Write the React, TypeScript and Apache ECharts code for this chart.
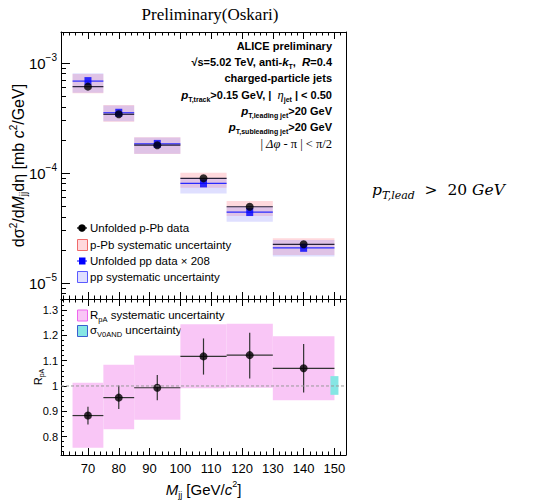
import React, { useEffect, useRef } from "react";
import * as echarts from "echarts";

// ---- data ----
const binLow = [65, 75, 85, 100, 115, 130];
const binHigh = [75, 85, 100, 115, 130, 150];
const binCenter = [70, 80, 92.5, 107.5, 122.5, 140];

const pPbY = [6.1e-4, 3.42e-4, 1.79e-4, 8.95e-5, 4.94e-5, 2.25e-5];
const ppY = [6.85e-4, 3.53e-4, 1.84e-4, 8.05e-5, 4.42e-5, 2.09e-5];
const pPbSysLow = [5.31e-4, 2.92e-4, 1.49e-4, 7.35e-5, 4.06e-5, 1.8e-5];
const pPbSysHigh = [7.94e-4, 4.15e-4, 2.11e-4, 1.007e-4, 5.56e-5, 2.55e-5];
const ppSysLow = [5.37e-4, 2.95e-4, 1.5e-4, 6.53e-5, 3.61e-5, 1.74e-5];
const ppSysHigh = [8.06e-4, 4.1e-4, 2.1e-4, 8.95e-5, 4.94e-5, 2.46e-5];

const rpa = [0.883, 0.954, 0.993, 1.117, 1.122, 1.07];
const rpaStatLow = [0.848, 0.909, 0.944, 1.045, 1.03, 0.974];
const rpaStatHigh = [0.918, 1.002, 1.043, 1.188, 1.211, 1.166];
const rpaSysLow = [0.756, 0.829, 0.866, 0.991, 0.993, 0.944];
const rpaSysHigh = [1.013, 1.084, 1.121, 1.244, 1.246, 1.197];

const v0andBox = [148.7, 151.3, 0.965, 1.039];

const xTickValues = [70, 80, 90, 100, 110, 120, 130, 140, 150];
const upperDecades = [-5, -4, -3];
const ratioTickValues = [0.8, 0.9, 1, 1.1, 1.2, 1.3];

// ---- layout / styles ----
const X_MIN = 61.25;
const X_MAX = 153.75;
const LOGY_MIN = -5.145;
const LOGY_MAX = -2.718;
const R_MIN = 0.727;
const R_MAX = 1.344;
const FONT = "Liberation Sans";
const SERIF = "Liberation Serif";
const PPB_FILL = "rgba(255,150,160,0.36)";
const PP_FILL = "rgba(130,130,255,0.26)";

const xMinor: number[] = [];
for (let v = 62; v <= 152; v += 2) xMinor.push(v);
const logMinor: number[] = [];
for (let n = -6; n <= -3; n++)
  for (let k = 2; k <= 9; k++) {
    const v = n + Math.log10(k);
    if (v > LOGY_MIN && v < LOGY_MAX) logMinor.push(v);
  }
const rMinor: number[] = [];
for (let i = 0; i <= 31; i++) {
  const v = Number((0.74 + i * 0.02).toFixed(2));
  if (v < R_MAX) rMinor.push(v);
}

const boxRender = (fill: string) => (params: any, api: any) => {
  const p1 = api.coord([api.value(0), api.value(3)]);
  const p2 = api.coord([api.value(1), api.value(2)]);
  return {
    type: "rect",
    shape: { x: p1[0], y: p1[1], width: p2[0] - p1[0], height: p2[1] - p1[1] },
    style: { fill },
  };
};

const errRender = (color: string) => (params: any, api: any) => {
  const xc = api.value(0), y = api.value(1);
  const a = api.coord([api.value(2), y]);
  const b = api.coord([api.value(3), y]);
  const c = api.coord([xc, api.value(4)]);
  const d = api.coord([xc, api.value(5)]);
  return {
    type: "group",
    children: [
      { type: "line", shape: { x1: a[0], y1: a[1], x2: b[0], y2: b[1] }, style: { stroke: color, lineWidth: 1.2 } },
      { type: "line", shape: { x1: c[0], y1: c[1], x2: d[0], y2: d[1] }, style: { stroke: color, lineWidth: 1.2 } },
    ],
  };
};

const tickAxisX = (gridIndex: number, position: string, ticks: number[], len: number, line: boolean, labels?: any, name?: any) => ({
  type: "value",
  gridIndex,
  position,
  min: X_MIN,
  max: X_MAX,
  axisLine: { show: line, onZero: false, lineStyle: { color: "#000", width: 1 } },
  axisTick: { show: true, inside: true, length: len, customValues: ticks, lineStyle: { color: "#000", width: 1 } },
  axisLabel: labels || { show: false },
  splitLine: { show: false },
  ...(name || {}),
});

const tickAxisY = (gridIndex: number, position: string, min: number, max: number, ticks: number[] | null, len: number, line: boolean, labels?: any, name?: any) => ({
  type: "value",
  gridIndex,
  position,
  min,
  max,
  axisLine: { show: line, onZero: false, lineStyle: { color: "#000", width: 1 } },
  axisTick: ticks
    ? { show: true, inside: true, length: len, customValues: ticks, lineStyle: { color: "#000", width: 1 } }
    : { show: false },
  axisLabel: labels || { show: false },
  splitLine: { show: false },
  ...(name || {}),
});

const subStyle = (size: number, extra: any = {}) => ({ fontSize: size, fontFamily: FONT, verticalAlign: "bottom", fill: "#000", ...extra });

export default function App() {
  const ref = useRef<HTMLDivElement>(null);
  useEffect(() => {
    if (!ref.current) return;
    const chart = echarts.init(ref.current, null, { renderer: "svg" });

    const ppSysData = binLow.map((xl, i) => [xl, binHigh[i], Math.log10(ppSysLow[i]), Math.log10(ppSysHigh[i])]);
    const pPbSysData = binLow.map((xl, i) => [xl, binHigh[i], Math.log10(pPbSysLow[i]), Math.log10(pPbSysHigh[i])]);
    const ppBars = binCenter.map((x, i) => [x, Math.log10(ppY[i]), binLow[i], binHigh[i], Math.log10(ppY[i]), Math.log10(ppY[i])]);
    const pPbBars = binCenter.map((x, i) => [x, Math.log10(pPbY[i]), binLow[i], binHigh[i], Math.log10(pPbY[i]), Math.log10(pPbY[i])]);
    const rSysData = binLow.map((xl, i) => [xl, binHigh[i], rpaSysLow[i], rpaSysHigh[i]]);
    const rBars = binCenter.map((x, i) => [x, rpa[i], binLow[i], binHigh[i], rpaStatLow[i], rpaStatHigh[i]]);

    const legendText = (x: number, y: number, text: string, rich?: any) => ({
      type: "text",
      x,
      y,
      style: {
        text,
        fontSize: 11.5,
        fontFamily: FONT,
        fill: "#000",
        align: "left",
        verticalAlign: "middle",
        rich: rich || {},
      },
    });

    const infoRich = {
      t: { fontSize: 11, fontFamily: FONT, fontWeight: "bold", fill: "#000", lineHeight: 16 },
      ti: { fontSize: 11.5, fontFamily: FONT, fontWeight: "bold", fontStyle: "italic", fill: "#000", lineHeight: 16 },
      sub: subStyle(7, { fontWeight: "bold" }),
      g: { fontSize: 12.5, fontFamily: SERIF, fontStyle: "italic", fill: "#000", lineHeight: 16 },
      n: { fontSize: 12.5, fontFamily: SERIF, fill: "#000", lineHeight: 16 },
    };
    const infoLine = (y: number, text: string) => ({
      type: "text",
      x: 332,
      y,
      style: { text, align: "right", verticalAlign: "middle", rich: infoRich, fontSize: 11, fontFamily: FONT, fontWeight: "bold", fill: "#000" },
    });

    const option: any = {
      animation: false,
      grid: [
        { left: 61, top: 32, width: 285, height: 267, show: false },
        { left: 61, top: 299, width: 285, height: 159, show: false },
      ],
      xAxis: [
        tickAxisX(0, "bottom", xTickValues, 7, true),
        tickAxisX(0, "bottom", xMinor, 3.5, false),
        tickAxisX(0, "top", xTickValues, 7, true),
        tickAxisX(0, "top", xMinor, 3.5, false),
        tickAxisX(
          1,
          "bottom",
          xTickValues,
          7,
          true,
          { show: true, customValues: xTickValues, fontSize: 13, fontFamily: FONT, color: "#000", margin: 7 },
          {
            name: "{i|M}{sub|jj}{n| [GeV/}{i|c}{sup|2}{n|]}",
            nameLocation: "middle",
            nameGap: 24,
            nameTextStyle: {
              rich: {
                i: { fontSize: 15, fontFamily: FONT, fontStyle: "italic", color: "#000", lineHeight: 20 },
                n: { fontSize: 15, fontFamily: FONT, color: "#000", lineHeight: 20 },
                sub: { fontSize: 9, fontFamily: FONT, color: "#000", verticalAlign: "bottom" },
                sup: { fontSize: 9, fontFamily: FONT, color: "#000", verticalAlign: "top" },
              },
            },
          }
        ),
        tickAxisX(1, "bottom", xMinor, 3.5, false),
        tickAxisX(1, "top", xTickValues, 7, true),
        tickAxisX(1, "top", xMinor, 3.5, false),
      ],
      yAxis: [
        tickAxisY(
          0,
          "left",
          LOGY_MIN,
          LOGY_MAX,
          upperDecades,
          9,
          true,
          {
            show: true,
            customValues: upperDecades,
            margin: 4,
            formatter: (v: number) => `{b|10}{s|\u2212${Math.round(-v)}}`,
            rich: {
              b: { fontSize: 15, fontFamily: FONT, color: "#000", lineHeight: 22 },
              s: { fontSize: 10, fontFamily: FONT, color: "#000", verticalAlign: "top" },
            },
          },
          {
            name: "{n|d\u03c3}{sup|2}{n|/d}{i|M}{sub|jj}{n|d\u03b7 [mb }{i|c}{sup|2}{n|/GeV]}",
            nameLocation: "middle",
            nameGap: 33,
            nameMoveOverlap: false,
            nameTextStyle: {
              rich: {
                i: { fontSize: 16, fontFamily: FONT, fontStyle: "italic", color: "#000", lineHeight: 20 },
                n: { fontSize: 16, fontFamily: FONT, color: "#000", lineHeight: 20 },
                sub: { fontSize: 10, fontFamily: FONT, color: "#000", verticalAlign: "bottom" },
                sup: { fontSize: 10, fontFamily: FONT, color: "#000", verticalAlign: "top" },
              },
            },
          }
        ),
        tickAxisY(0, "left", LOGY_MIN, LOGY_MAX, logMinor, 5, false),
        tickAxisY(0, "right", LOGY_MIN, LOGY_MAX, null, 0, true),
        tickAxisY(
          1,
          "left",
          R_MIN,
          R_MAX,
          ratioTickValues,
          6,
          true,
          {
            show: true,
            customValues: ratioTickValues,
            margin: 3,
            fontSize: 11,
            fontFamily: FONT,
            color: "#000",
            formatter: (v: number) => String(Number(v.toFixed(1))),
          },
          {
            name: "{n|R}{sub|pA}",
            nameLocation: "middle",
            nameGap: 16,
            nameMoveOverlap: false,
            nameTextStyle: {
              rich: {
                n: { fontSize: 11, fontFamily: FONT, color: "#000", lineHeight: 14 },
                sub: { fontSize: 7, fontFamily: FONT, color: "#000", verticalAlign: "bottom" },
              },
            },
          }
        ),
        tickAxisY(1, "left", R_MIN, R_MAX, rMinor, 3, false),
        tickAxisY(1, "right", R_MIN, R_MAX, null, 0, true),
      ],
      series: [
        {
          name: "p-Pb systematic uncertainty",
          type: "custom",
          xAxisIndex: 0,
          yAxisIndex: 0,
          renderItem: boxRender(PPB_FILL),
          data: pPbSysData,
          encode: { x: [0, 1], y: [2, 3] },
        },
        {
          name: "pp systematic uncertainty",
          type: "custom",
          xAxisIndex: 0,
          yAxisIndex: 0,
          renderItem: boxRender(PP_FILL),
          data: ppSysData,
          encode: { x: [0, 1], y: [2, 3] },
        },
        {
          name: "pp bars",
          type: "custom",
          xAxisIndex: 0,
          yAxisIndex: 0,
          renderItem: errRender("#2a2aff"),
          data: ppBars,
          encode: { x: 0, y: 1 },
        },
        {
          name: "p-Pb bars",
          type: "custom",
          xAxisIndex: 0,
          yAxisIndex: 0,
          renderItem: errRender("#26203a"),
          data: pPbBars,
          encode: { x: 0, y: 1 },
        },
        {
          name: "Unfolded pp data \u00d7 208",
          type: "scatter",
          xAxisIndex: 0,
          yAxisIndex: 0,
          symbol: "rect",
          symbolSize: [7, 8],
          itemStyle: { color: "#0000ff" },
          data: binCenter.map((x, i) => [x, Math.log10(ppY[i])]),
        },
        {
          name: "Unfolded p-Pb data",
          type: "scatter",
          xAxisIndex: 0,
          yAxisIndex: 0,
          symbol: "circle",
          symbolSize: 8,
          itemStyle: { color: "#000" },
          data: binCenter.map((x, i) => [x, Math.log10(pPbY[i])]),
        },
        {
          name: "RpA systematic uncertainty",
          type: "custom",
          xAxisIndex: 4,
          yAxisIndex: 3,
          renderItem: boxRender("#f9c6f6"),
          data: rSysData,
          encode: { x: [0, 1], y: [2, 3] },
        },
        {
          name: "sigma V0AND uncertainty",
          type: "custom",
          xAxisIndex: 4,
          yAxisIndex: 3,
          renderItem: boxRender("#86e6e4"),
          data: [v0andBox],
          encode: { x: [0, 1], y: [2, 3] },
        },
        {
          name: "unity",
          type: "line",
          xAxisIndex: 4,
          yAxisIndex: 3,
          symbol: "none",
          lineStyle: { color: "#9a9a9a", type: [3, 2], width: 1 },
          data: [
            [X_MIN, 1],
            [X_MAX, 1],
          ],
        },
        {
          name: "RpA bars",
          type: "custom",
          xAxisIndex: 4,
          yAxisIndex: 3,
          renderItem: errRender("#333"),
          data: rBars,
          encode: { x: 0, y: 1 },
        },
        {
          name: "RpA",
          type: "scatter",
          xAxisIndex: 4,
          yAxisIndex: 3,
          symbol: "circle",
          symbolSize: 8,
          itemStyle: { color: "#000" },
          data: binCenter.map((x, i) => [x, rpa[i]]),
        },
      ],
      graphic: [
        {
          type: "text",
          x: 210,
          y: 14,
          style: { text: "Preliminary(Oskari)", fontSize: 17, fontFamily: SERIF, fill: "#000", align: "center", verticalAlign: "middle" },
        },
        {
          type: "text",
          x: 372,
          y: 190,
          style: {
            text: "{i|p}{sub|T,lead}{n|  >  20 }{i|GeV}",
            align: "left",
            verticalAlign: "middle",
            rich: {
              i: { fontSize: 15.5, fontFamily: "DejaVu Serif", fontStyle: "italic", fill: "#000", lineHeight: 22 },
              n: { fontSize: 15.5, fontFamily: "DejaVu Serif", fill: "#000", lineHeight: 22 },
              sub: { fontSize: 11, fontFamily: "DejaVu Serif", fontStyle: "italic", fill: "#000", verticalAlign: "bottom" },
            },
          },
        },
        infoLine(46, "{t|ALICE preliminary}"),
        infoLine(62, "{t|\u221as=5.02 TeV, anti-}{ti|k}{sub|T}{t|,  }{ti|R}{t|=0.4}"),
        infoLine(78, "{t|charged-particle jets}"),
        infoLine(95, "{ti|p}{sub|T,track}{t|>0.15 GeV, |  }{g|\u03b7}{sub|jet}{t| | < 0.50}"),
        infoLine(111, "{ti|p}{sub|T,leading jet}{t|>20 GeV}"),
        infoLine(127, "{ti|p}{sub|T,subleading jet}{t|>20 GeV}"),
        infoLine(144, "{n|| }{g|\u0394\u03c6}{n| - \u03c0 | < \u03c0/2}"),
        // upper legend
        { type: "line", shape: { x1: 77, y1: 228, x2: 87, y2: 228 }, style: { stroke: "#000", lineWidth: 1.2 } },
        { type: "circle", shape: { cx: 82, cy: 228, r: 3.8 }, style: { fill: "#000" } },
        legendText(90, 228, "Unfolded p-Pb data"),
        { type: "rect", shape: { x: 77.5, y: 239.5, width: 10, height: 11 }, style: { fill: PPB_FILL, stroke: "#f06a6a", lineWidth: 1 } },
        legendText(90, 245, "p-Pb systematic uncertainty"),
        { type: "line", shape: { x1: 77, y1: 261, x2: 87, y2: 261 }, style: { stroke: "#2a2aff", lineWidth: 1.2 } },
        { type: "rect", shape: { x: 79, y: 257.5, width: 6.5, height: 7 }, style: { fill: "#0000ff" } },
        legendText(90, 261, "Unfolded pp data \u00d7 208"),
        { type: "rect", shape: { x: 77.5, y: 271.5, width: 10, height: 11 }, style: { fill: PP_FILL, stroke: "#5a5aff", lineWidth: 1 } },
        legendText(90, 277, "pp systematic uncertainty"),
        // lower legend
        { type: "rect", shape: { x: 77.5, y: 310, width: 10, height: 11 }, style: { fill: "#f9c6f6", stroke: "#ee66ee", lineWidth: 1 } },
        legendText(90, 315, "{n|R}{sub|pA}{n| systematic uncertainty}", {
          n: { fontSize: 11.5, fontFamily: FONT, fill: "#000", lineHeight: 16 },
          sub: subStyle(7.5),
        }),
        { type: "rect", shape: { x: 77.5, y: 325.5, width: 10, height: 11 }, style: { fill: "#86e6e4", stroke: "#3a5fd0", lineWidth: 1 } },
        legendText(90, 330, "{n|\u03c3}{sub|V0AND}{n| uncertainty}", {
          n: { fontSize: 11.5, fontFamily: FONT, fill: "#000", lineHeight: 16 },
          sub: subStyle(7.5),
        }),
      ],
    };
    chart.setOption(option);
    return () => chart.dispose();
  }, []);
  return <div ref={ref} style={{ position: "fixed", left: 0, top: 0, width: 535, height: 500, background: "#fff" }} />;
}
